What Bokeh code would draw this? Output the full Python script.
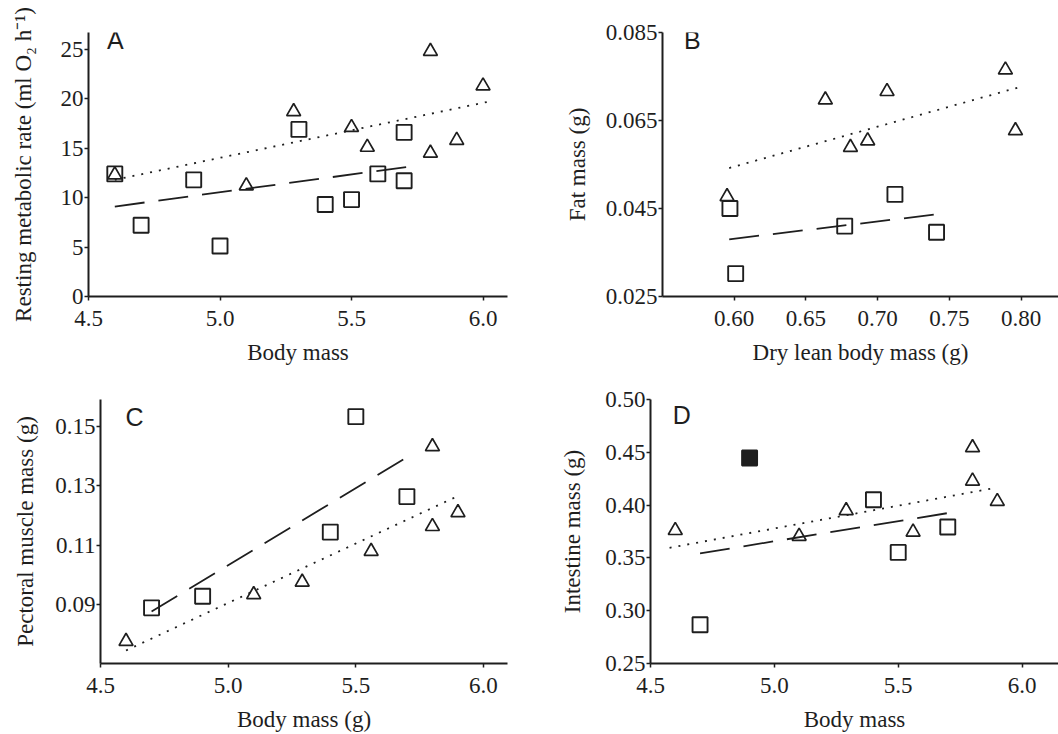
from bokeh.plotting import figure
from bokeh.layouts import column, row
from bokeh.models import Range1d, FixedTicker, Label, PrintfTickFormatter
from bokeh.embed import file_html
from bokeh.resources import INLINE

# ---------------- data ----------------
# Panel A: resting metabolic rate vs body mass
A_sq_x = [4.6, 4.7, 4.9, 5.0, 5.3, 5.4, 5.5, 5.6, 5.7, 5.7]
A_sq_y = [12.4, 7.2, 11.8, 5.1, 16.9, 9.3, 9.8, 12.4, 16.6, 11.7]
A_tri_x = [4.6, 5.1, 5.28, 5.5, 5.56, 5.8, 5.8, 5.9, 6.0]
A_tri_y = [12.3, 11.2, 18.7, 17.1, 15.1, 24.8, 14.5, 15.8, 21.3]
A_dot_x = [4.6, 6.02]
A_dot_y = [11.8, 19.7]
A_dash_x = [4.6, 5.71]
A_dash_y = [9.1, 13.1]

# Panel B: fat mass vs dry lean body mass
B_sq_x = [0.597, 0.601, 0.677, 0.712, 0.741]
B_sq_y = [0.0450, 0.0302, 0.0410, 0.0482, 0.0396]
B_tri_x = [0.595, 0.6635, 0.681, 0.693, 0.7065, 0.789, 0.796]
B_tri_y = [0.0477, 0.0697, 0.0589, 0.0604, 0.0716, 0.0765, 0.0627]
B_dot_x = [0.5965, 0.799]
B_dot_y = [0.0542, 0.0726]
B_dash_x = [0.5965, 0.742]
B_dash_y = [0.0380, 0.0437]

# Panel C: pectoral muscle mass vs body mass
C_sq_x = [4.7, 4.9, 5.4, 5.5, 5.7]
C_sq_y = [0.0888, 0.0927, 0.1144, 0.1534, 0.1264]
C_tri_x = [4.6, 5.1, 5.29, 5.56, 5.8, 5.8, 5.9]
C_tri_y = [0.0775, 0.0933, 0.0975, 0.1079, 0.1433, 0.1163, 0.1210]
C_dot_x = [4.6, 5.91]
C_dot_y = [0.0744, 0.1270]
C_dash_x = [4.7, 5.7]
C_dash_y = [0.0876, 0.1397]

# Panel D: intestine mass vs body mass
D_sq_x = [4.7, 5.4, 5.5, 5.7]
D_sq_y = [0.2867, 0.405, 0.3552, 0.3792]
D_fill_x = [4.9]
D_fill_y = [0.4446]
D_tri_x = [4.6, 5.1, 5.29, 5.56, 5.8, 5.8, 5.9]
D_tri_y = [0.376, 0.3705, 0.3948, 0.3745, 0.4545, 0.4228, 0.4035]
D_dot_x = [4.577, 5.884]
D_dot_y = [0.3596, 0.4160]
D_dash_x = [4.70, 5.72]
D_dash_y = [0.3543, 0.3932]

# tick values
A_xticks = [4.5, 5.0, 5.5, 6.0]
A_yticks = [0, 5, 10, 15, 20, 25]
B_xticks = [0.60, 0.65, 0.70, 0.75, 0.80]
B_yticks = [0.025, 0.045, 0.065, 0.085]
C_xticks = [4.5, 5.0, 5.5, 6.0]
C_yticks = [0.09, 0.11, 0.13, 0.15]
D_xticks = [4.5, 5.0, 5.5, 6.0]
D_yticks = [0.25, 0.30, 0.35, 0.40, 0.45, 0.50]

SERIF = "Liberation Serif"
INK = "#1e1e1e"
W, H = 529, 367


def panel(xr, yr, xticks, yticks, xfmt, yfmt, xlabel, ylabel, borders,
          ylab_standoff, letter, letter_xy):
    left, right, top, bottom = borders
    p = figure(width=W, height=H, output_backend="svg", toolbar_location=None,
               x_range=Range1d(*xr), y_range=Range1d(*yr),
               min_border_left=left, min_border_right=right,
               min_border_top=top, min_border_bottom=bottom)
    p.outline_line_color = None
    p.background_fill_color = "white"
    p.border_fill_color = "white"
    p.grid.visible = False
    for ax, ticks, fmt in ((p.xaxis[0], xticks, xfmt), (p.yaxis[0], yticks, yfmt)):
        ax.ticker = FixedTicker(ticks=ticks)
        ax.formatter = PrintfTickFormatter(format=fmt)
        ax.minor_tick_line_color = None
        ax.major_tick_in = 0
        ax.major_tick_out = 4
        ax.major_tick_line_width = 1.5
        ax.major_tick_line_color = INK
        ax.axis_line_width = 2
        ax.axis_line_color = INK
        ax.major_label_text_font = SERIF
        ax.major_label_text_font_size = "23px"
        ax.major_label_text_color = INK
        ax.axis_label_text_font = SERIF
        ax.axis_label_text_font_size = "23px"
        ax.axis_label_text_font_style = "normal"
        ax.axis_label_text_color = INK
    p.xaxis.major_label_standoff = 10
    p.yaxis.major_label_standoff = 1
    p.xaxis.axis_label = xlabel
    p.yaxis.axis_label = ylabel
    p.xaxis.axis_label_standoff = 11
    p.yaxis.axis_label_standoff = ylab_standoff
    p.add_layout(Label(x=letter_xy[0], y=letter_xy[1], text=letter,
                       text_font="Liberation Sans", text_font_size="25px",
                       text_color=INK, text_baseline="middle", text_align="left"))
    return p


def draw(p, sq_x, sq_y, tri_x, tri_y, dot_x, dot_y, dash_x, dash_y):
    p.line(dot_x, dot_y, line_color=INK, line_width=1.8, line_dash="2 7")
    p.line(dash_x, dash_y, line_color=INK, line_width=1.8, line_dash="30 14")
    p.scatter(sq_x, sq_y, marker="square", size=15, fill_color=None,
              line_color=INK, line_width=1.9)
    p.scatter(tri_x, tri_y, marker="triangle", size=14, fill_color=None,
              line_color=INK, line_width=1.7)


pA = panel((4.5, 6.093), (0, 26.7), A_xticks, A_yticks, "%.1f", "%d",
           "Body mass", "Resting metabolic rate (ml O\u2082 h\u207b\u00b9)",
           (88, 22, 32, 70), 22, "A", (4.57, 25.9))
draw(pA, A_sq_x, A_sq_y, A_tri_x, A_tri_y, A_dot_x, A_dot_y, A_dash_x, A_dash_y)

pB = panel((0.55, 0.826), (0.025, 0.085), B_xticks, B_yticks, "%.2f", "%.3f",
           "Dry lean body mass (g)", "Fat mass (g)",
           (133, 0, 29, 70), 13, "B", (0.5649, 0.0833))
draw(pB, B_sq_x, B_sq_y, B_tri_x, B_tri_y, B_dot_x, B_dot_y, B_dash_x, B_dash_y)

pC = panel((4.5, 6.094), (0.07, 0.1592), C_xticks, C_yticks, "%.1f", "%.2f",
           "Body mass (g)", "Pectoral muscle mass (g)",
           (100, 22, 32, 69), 14, "C", (4.598, 0.1534))
draw(pC, C_sq_x, C_sq_y, C_tri_x, C_tri_y, C_dot_x, C_dot_y, C_dash_x, C_dash_y)

pD = panel((4.5, 6.147), (0.25, 0.50), D_xticks, D_yticks, "%.1f", "%.2f",
           "Body mass", "Intestine mass (g)",
           (121, 0, 30, 69), 17, "D", (4.59, 0.485))
draw(pD, D_sq_x, D_sq_y, D_tri_x, D_tri_y, D_dot_x, D_dot_y, D_dash_x, D_dash_y)
pD.scatter(D_fill_x, D_fill_y, marker="square", size=15, fill_color=INK,
           line_color=INK, line_width=1.9)

layout = column(row(pA, pB, spacing=0), row(pC, pD, spacing=0), spacing=0)

open("out.html", "w").write(file_html(layout, INLINE))
